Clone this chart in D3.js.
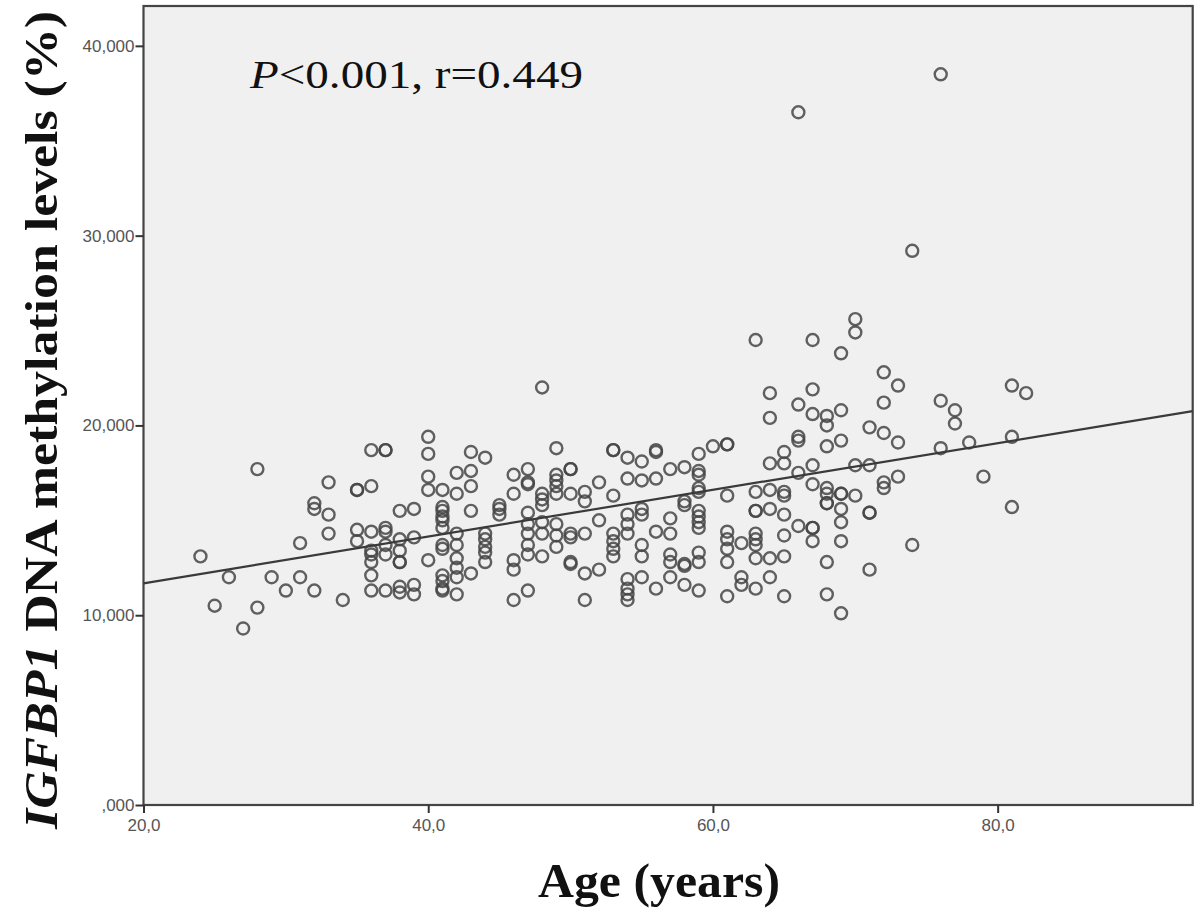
<!DOCTYPE html>
<html>
<head>
<meta charset="utf-8">
<script src="https://cdn.jsdelivr.net/npm/d3@7"></script>
<style>
  body { margin: 0; background: #fff; }
  .tick text { font-family: "Liberation Sans", Arial, sans-serif; font-size: 17px; fill: #555; }
  .axis path, .axis line { stroke: #333; stroke-width: 2; }
</style>
</head>
<body>
<div id="chart"></div>
<script>
// age (years) and IGFBP1 methylation (%), column by column
var ages = [
  24, 25, 26, 27, 28, 28, 29, 30, 31, 31, 32, 32, 32, 33, 33, 33, 34,
  35, 35, 35, 35,
  36, 36, 36, 36, 36, 36, 36, 36,
  37, 37, 37, 37, 37, 37, 37,
  38, 38, 38, 38, 38, 38, 38,
  39, 39, 39, 39,
  40, 40, 40, 40, 40,
  41, 41, 41, 41, 41, 41, 41, 41, 41, 41, 41, 41,
  42, 42, 42, 42, 42, 42, 42, 42,
  43, 43, 43, 43, 43,
  44, 44, 44, 44, 44, 44,
  45, 45, 45,
  46, 46, 46, 46, 46,
  47, 47, 47, 47, 47, 47, 47, 47, 47,
  48, 48, 48, 48, 48, 48, 48,
  49, 49, 49, 49, 49, 49, 49, 49,
  50, 50, 50, 50, 50, 50, 50,
  51, 51, 51, 51, 51,
  52, 52, 52,
  53, 53, 53, 53, 53, 53, 53,
  54, 54, 54, 54, 54, 54, 54, 54, 54,
  55, 55, 55, 55, 55, 55, 55,
  56, 56, 56, 56, 56,
  57, 57, 57, 57, 57, 57,
  58, 58, 58, 58, 58, 58,
  59, 59, 59, 59, 59, 59, 59, 59, 59, 59, 59, 59,
  60,
  61, 61, 61, 61, 61, 61, 61, 61,
  62, 62, 62,
  63, 63, 63, 63, 63, 63, 63, 63, 63,
  64, 64, 64, 64, 64, 64, 64,
  65, 65, 65, 65, 65, 65, 65, 65,
  66, 66, 66, 66, 66, 66,
  67, 67, 67, 67, 67, 67, 67, 67,
  68, 68, 68, 68, 68, 68, 68, 68, 68,
  69, 69, 69, 69, 69, 69, 69, 69, 69,
  70, 70, 70, 70,
  71, 71, 71, 71, 71,
  72, 72, 72, 72, 72,
  73, 73, 73,
  74, 74,
  76, 76, 76,
  77, 77,
  78, 79,
  81, 81, 81,
  82
];
var methylation = [
  13.1, 10.5, 12.0, 9.3, 17.7, 10.4, 12.0, 11.3, 12.0, 13.8, 11.3, 15.6, 15.9, 14.3, 15.3, 17.0, 10.8,
  16.6, 16.6, 14.5, 13.9,
  18.7, 16.8, 14.4, 13.4, 13.2, 12.8, 12.1, 11.3,
  18.7, 18.7, 14.6, 14.4, 13.7, 13.2, 11.3,
  15.5, 14.0, 13.4, 12.8, 12.8, 11.5, 11.2,
  15.6, 14.1, 11.6, 11.1,
  19.4, 18.5, 17.3, 16.6, 12.9,
  16.6, 15.7, 15.5, 15.2, 15.0, 14.6, 13.7, 13.5, 12.1, 11.8, 11.4, 11.3,
  17.5, 16.4, 14.3, 13.7, 13.0, 12.5, 12.0, 11.1,
  18.6, 17.6, 16.8, 15.5, 12.2,
  18.3, 14.3, 14.0, 13.6, 13.3, 12.8,
  15.8, 15.6, 15.3,
  17.4, 16.4, 12.9, 12.4, 10.8,
  17.7, 17.0, 16.9, 15.4, 14.8, 14.3, 13.7, 13.2, 11.3,
  22.0, 16.4, 16.1, 15.8, 14.9, 14.3, 13.1,
  18.8, 17.4, 17.1, 16.8, 16.4, 14.8, 14.2, 13.6,
  17.7, 17.7, 16.4, 14.3, 14.1, 12.8, 12.7,
  16.5, 16.0, 14.3, 12.2, 10.8,
  17.0, 15.0, 12.4,
  18.7, 18.7, 16.3, 14.3, 13.9, 13.5, 13.1,
  18.3, 17.2, 15.3, 14.8, 14.3, 11.9, 11.4, 11.1, 10.8,
  18.1, 17.1, 15.6, 15.3, 13.7, 13.1, 12.0,
  18.7, 18.6, 17.2, 14.4, 11.4,
  17.7, 15.1, 14.3, 13.2, 12.8, 12.0,
  17.8, 16.0, 15.8, 12.7, 12.6, 11.6,
  18.5, 17.6, 17.4, 16.7, 16.5, 15.5, 15.2, 14.9, 14.6, 13.3, 12.8, 11.3,
  18.9,
  19.0, 19.0, 16.3, 14.4, 14.0, 13.5, 12.8, 11.0,
  13.8, 12.0, 11.6,
  24.5, 16.5, 15.5, 15.5, 14.3, 14.0, 13.7, 13.0, 11.4,
  21.7, 20.4, 18.0, 16.6, 15.6, 13.0, 12.0,
  18.6, 18.0, 16.5, 16.3, 15.3, 14.2, 13.1, 11.0,
  36.5, 21.1, 19.4, 19.2, 17.5, 14.7,
  24.5, 21.9, 20.6, 17.9, 16.9, 14.6, 14.6, 13.9,
  20.5, 20.0, 18.9, 16.7, 16.4, 15.9, 15.9, 12.8, 11.1,
  23.8, 20.8, 19.2, 16.4, 16.4, 15.6, 14.9, 13.9, 10.1,
  25.6, 24.9, 17.9, 16.3,
  19.9, 17.9, 15.4, 15.4, 12.4,
  22.8, 21.2, 19.6, 17.0, 16.7,
  22.1, 19.1, 17.3,
  29.2, 13.7,
  38.5, 21.3, 18.8,
  20.8, 20.1,
  19.1, 17.3,
  22.1, 19.4, 15.7,
  21.7
];

var xTicks = [20, 40, 60, 80];
var xTickLabels = ["20,0", "40,0", "60,0", "80,0"];
var yTicks = [0, 10, 20, 30, 40];
var yTickLabels = [",000", "10,000", "20,000", "30,000", "40,000"];
var xDomain = [20, 93.7];
var yDomain = [0, 42.1];
// fit line: methylation = intercept + slope * age
var fitIntercept = 9.22;
var fitSlope = 0.1231;

var width = 1200, height = 910;
var margin = {top: 6, right: 7.3, bottom: 105, left: 143.5};

var svg = d3.select("#chart").append("svg")
	.attr("width", width)
	.attr("height", height);

var x = d3.scaleLinear().domain(xDomain).range([margin.left, width - margin.right]);
var y = d3.scaleLinear().domain(yDomain).range([height - margin.bottom, margin.top]);

// plot background + frame
svg.append("rect")
	.attr("x", x(xDomain[0]))
	.attr("y", y(yDomain[1]))
	.attr("width", x(xDomain[1]) - x(xDomain[0]))
	.attr("height", y(yDomain[0]) - y(yDomain[1]))
	.attr("fill", "#f0f0f0")
	.attr("stroke", "#444")
	.attr("stroke-width", 2.2);

var points = ages.map(function(a, i) { return {age: a, val: methylation[i]}; });

svg.append("g")
	.selectAll("circle")
	.data(points)
	.enter().append("circle")
	.attr("cx", function(d) { return x(d.age); })
	.attr("cy", function(d) { return y(d.val); })
	.attr("r", 6)
	.attr("fill", "none")
	.attr("stroke", "#454545")
	.attr("stroke-opacity", 0.85)
	.attr("stroke-width", 2.4);

svg.append("line")
	.attr("x1", x(xDomain[0]))
	.attr("y1", y(fitIntercept + fitSlope * xDomain[0]))
	.attr("x2", x(xDomain[1]))
	.attr("y2", y(fitIntercept + fitSlope * xDomain[1]))
	.attr("stroke", "#3a3a3a")
	.attr("stroke-width", 2.2);

svg.append("g")
	.attr("class", "axis")
	.attr("transform", "translate(0," + y(0) + ")")
	.call(d3.axisBottom(x).tickValues(xTicks).tickSize(8).tickPadding(6)
		.tickFormat(function(d, i) { return xTickLabels[i]; }));

svg.append("g")
	.attr("class", "axis")
	.attr("transform", "translate(" + x(xDomain[0]) + ",0)")
	.call(d3.axisLeft(y).tickValues(yTicks).tickSize(8).tickPadding(1)
		.tickFormat(function(d, i) { return yTickLabels[i]; }));

svg.selectAll(".axis .domain").remove();

// titles
svg.append("text")
	.attr("x", 659)
	.attr("y", 897)
	.attr("text-anchor", "middle")
	.attr("font-family", "'Liberation Serif', 'Times New Roman', serif")
	.attr("font-weight", "bold")
	.attr("font-size", 48)
	.attr("textLength", 242)
	.attr("lengthAdjust", "spacingAndGlyphs")
	.attr("fill", "#111")
	.text("Age (years)");

var yt = svg.append("text")
	.attr("transform", "translate(57,420) rotate(-90)")
	.attr("text-anchor", "middle")
	.attr("font-family", "'Liberation Serif', 'Times New Roman', serif")
	.attr("font-weight", "bold")
	.attr("font-size", 46)
	.attr("textLength", 818)
	.attr("lengthAdjust", "spacingAndGlyphs")
	.attr("fill", "#111");
yt.append("tspan").attr("font-style", "italic").text("IGFBP1");
yt.append("tspan").text(" DNA methylation levels (%)");

var pt = svg.append("text")
	.attr("x", 250)
	.attr("y", 88)
	.attr("font-family", "'Liberation Serif', 'Times New Roman', serif")
	.attr("font-size", 39)
	.attr("textLength", 333)
	.attr("lengthAdjust", "spacingAndGlyphs")
	.attr("fill", "#111");
pt.append("tspan").attr("font-style", "italic").text("P");
pt.append("tspan").text("<0.001, r=0.449");
</script>
</body>
</html>
